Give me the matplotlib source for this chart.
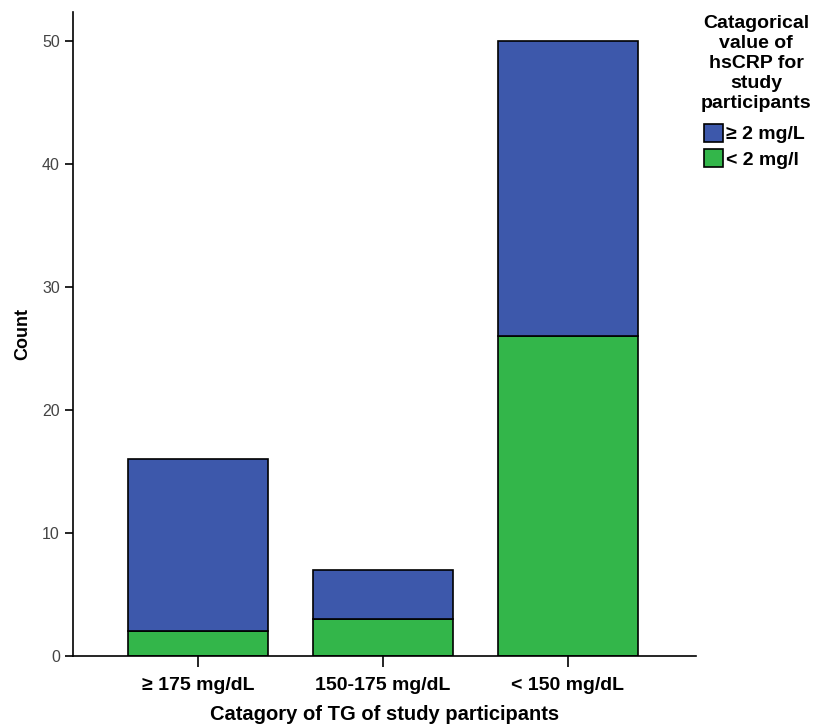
import matplotlib.pyplot as plt
import numpy as np

categories = ["≥ 175 mg/dL", "150-175 mg/dL", "< 150 mg/dL"]
low_crp = [2, 3, 26]      # < 2 mg/l
high_crp = [14, 4, 24]    # >= 2 mg/L
series_labels = ["≥ 2 mg/L", "< 2 mg/l"]
legend_title = "Catagorical\nvalue of\nhsCRP for\nstudy\nparticipants"

plt.rcParams['font.family'] = ['Liberation Sans', 'DejaVu Sans']

fig = plt.figure(figsize=(8.15, 7.24), dpi=100)
ax = fig.add_axes([0.0896, 0.094, 0.765, 0.889])

x = np.arange(len(categories))
b_green = ax.bar(x, low_crp, width=0.757, color="#33b64a", edgecolor="black", linewidth=1.2)
b_blue = ax.bar(x, high_crp, bottom=low_crp, width=0.757, color="#3d58ab", edgecolor="black", linewidth=1.2)

ax.set_xlim(-0.676, 2.697)
ax.set_ylim(0, 52.3)
ax.set_yticks([0, 10, 20, 30, 40, 50])
ax.set_xticks(x)
ax.set_xticklabels(categories, fontsize=14, fontweight="bold")
for lbl in ax.get_yticklabels():
    lbl.set_color("#444444")
    lbl.set_fontsize(11.5)
ax.tick_params(axis="x", length=8, width=1.2, pad=7)
ax.tick_params(axis="y", length=6, width=1.2)
for s in ["top", "right"]:
    ax.spines[s].set_visible(False)
ax.spines["left"].set_linewidth(1.2)
ax.spines["bottom"].set_linewidth(1.2)

ax.set_xlabel("Catagory of TG of study participants", fontsize=14.5, fontweight="bold", labelpad=8)
ax.set_ylabel("Count", fontsize=13, fontweight="bold", labelpad=8)

fig.text(0.928, 0.979, legend_title, ha="center", va="top", fontsize=14,
         fontweight="bold", linespacing=1.22, multialignment="center")
leg = fig.legend([b_blue, b_green], series_labels,
                 loc="upper left", bbox_to_anchor=(0.864, 0.829), frameon=False,
                 handlelength=0.95, handleheight=1.05, handletextpad=0.15,
                 labelspacing=0.3, borderaxespad=0, borderpad=0,
                 prop={'size': 14, 'weight': 'bold'})

fig.savefig("out.png", dpi=100)
